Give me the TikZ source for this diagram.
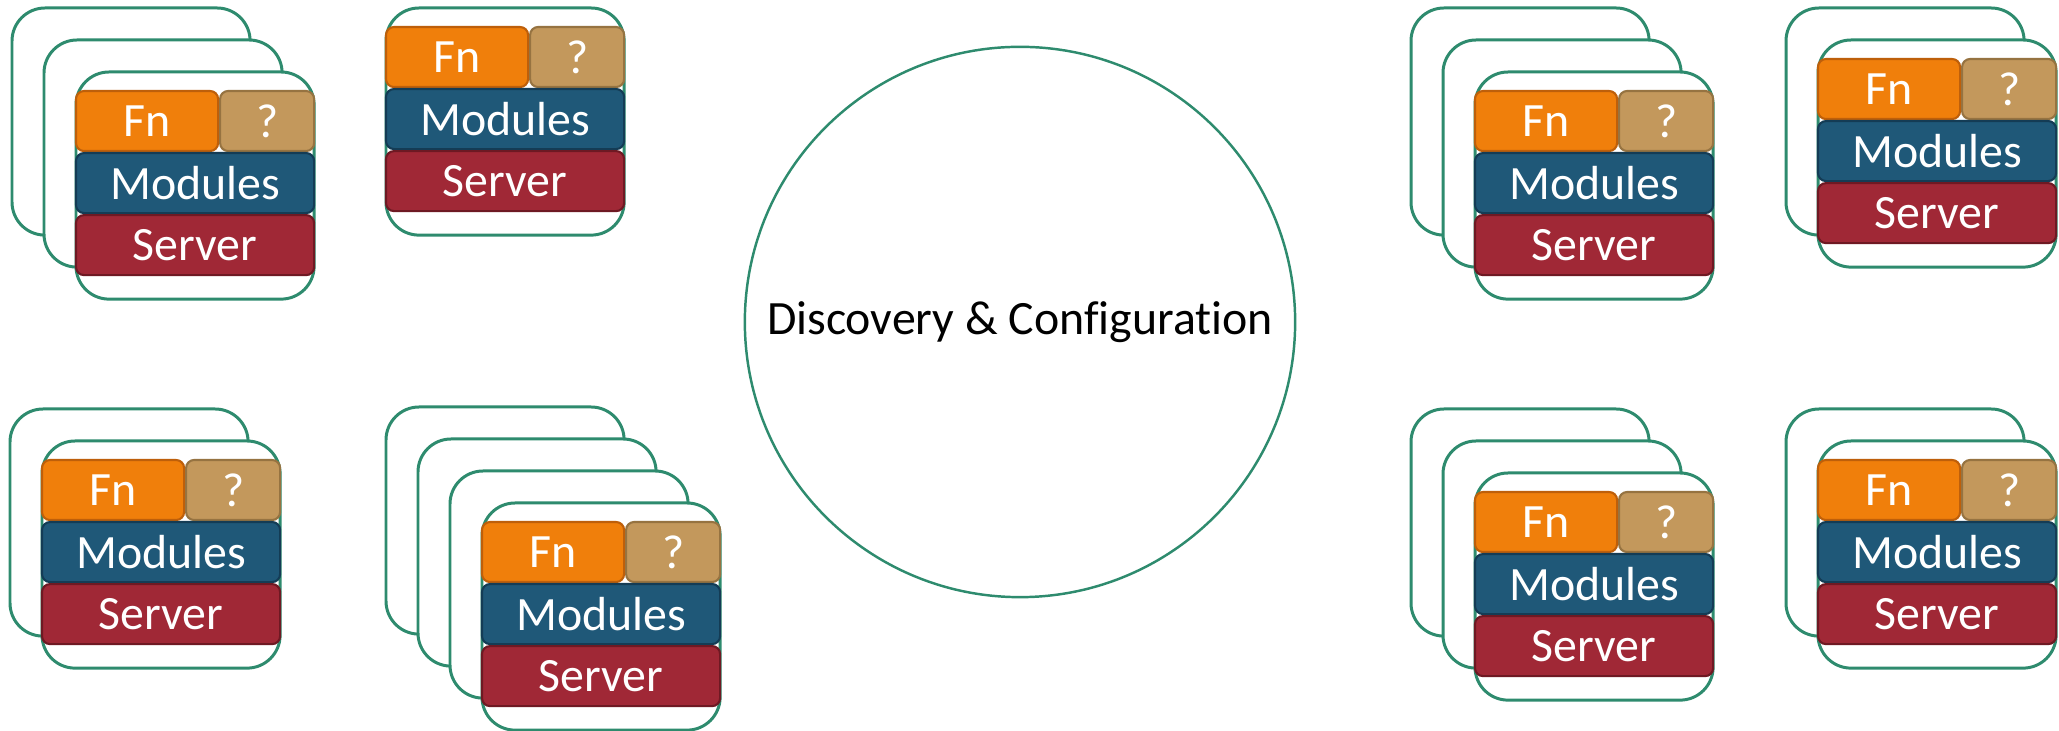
\documentclass[tikz,border=0pt]{standalone}
\usepackage{fontspec}
\setmainfont{Carlito}[Ligatures=NoCommon]
\usepackage{xcolor}
\usetikzlibrary{positioning}
\definecolor{cardgreen}{RGB}{46,139,110}
\definecolor{fnfill}{RGB}{240,127,11}
\definecolor{fnedge}{RGB}{190,95,10}
\definecolor{qfill}{RGB}{195,152,92}
\definecolor{qedge}{RGB}{150,115,65}
\definecolor{modfill}{RGB}{31,88,120}
\definecolor{modedge}{RGB}{20,60,85}
\definecolor{srvfill}{RGB}{160,40,54}
\definecolor{srvedge}{RGB}{110,25,35}
\tikzset{card/.style={draw=cardgreen, line width=0.85pt, fill=white,
   rounded corners=0.33cm, minimum width=2.38cm, minimum height=2.27cm,
   anchor=north west, inner sep=0pt, outer sep=0pt},
 layer/.style={rounded corners=0.08cm, line width=0.6pt, text=white,
   font=\fontsize{13.6}{16}\selectfont, minimum height=0.60cm,
   inner sep=0pt, outer sep=0pt},
 fnbox/.style={layer, fill=fnfill, draw=fnedge, minimum width=1.42cm},
 qbox/.style={layer, fill=qfill, draw=qedge, minimum width=0.94cm},
 modbox/.style={layer, fill=modfill, draw=modedge, minimum width=2.38cm},
 srvbox/.style={layer, fill=srvfill, draw=srvedge, minimum width=2.38cm},
 disc/.style={circle, draw=cardgreen, line width=0.7pt, minimum size=5.5cm,
   inner sep=0pt, font=\fontsize{13.6}{16}\selectfont},
 }

\begin{document}
\begin{tikzpicture}[x=0.01cm, y=-0.01cm]
    \useasboundingbox (0,0) rectangle (2059,731);
    % stacks: back corner, cards, name
    \foreach \x/\y/\n/\s in {12/8/3/a, 386/8/1/b, 10/409/2/c, 386/407/4/d,
        1411/8/3/e, 1786/8/2/f, 1411/409/3/g, 1786/409/2/h} {
        \foreach \k in {1,...,\n}
            \node[card] (\s\k) at ({\x+32*(\k-1)}, {\y+32*(\k-1)}) {};
        \node[fnbox, anchor=north west] (fn\s) at ([yshift=-0.19cm]\s\n.north west) {Fn};
        \node[qbox, right=0.02cm of fn\s] (q\s) {?};
        \node[modbox, below right=0.02cm and 0cm of fn\s.south west] (mod\s) {Modules};
        \node[srvbox, below=0.02cm of mod\s] (srv\s) {Server};
    }
    \node[disc] (disc) at (1020,322) {Discovery \& Configuration};
\end{tikzpicture}
\end{document}
